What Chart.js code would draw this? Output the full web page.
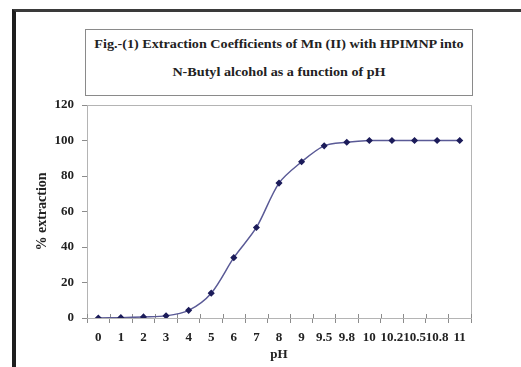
<!DOCTYPE html>
<html><head><meta charset="utf-8">
<script src="https://cdn.jsdelivr.net/npm/chart.js@4/dist/chart.umd.min.js"></script>
<style>
html,body{margin:0;padding:0;background:#fff;}
#wrap{position:relative;width:521px;height:367px;overflow:hidden;background:#fff;}
#frame{position:absolute;left:12px;top:9px;width:600px;height:400px;border-left:4px solid #1e1e1e;border-top:3px solid #3a3a3a;}
#tbox{position:absolute;left:85px;top:29px;width:388px;height:67px;border:1px solid #8a8a8a;box-sizing:border-box;font-family:"Liberation Serif","Times New Roman",serif;font-weight:bold;font-size:12px;color:#222;}
#tbox div{position:absolute;left:0;width:100%;text-align:center;white-space:nowrap;transform:scaleX(1.18);transform-origin:50% 50%;}
#c{position:absolute;left:0;top:0;}
</style></head>
<body><div id="wrap">
<div id="frame"></div>
<div id="tbox"><div id="t1" style="top:7px"></div><div id="t2" style="top:35px"></div></div>
<canvas id="c" width="521" height="367"></canvas>
</div>
<script>
const titleLines = ["Fig.-(1) Extraction Coefficients of Mn (II) with HPIMNP into", "N-Butyl alcohol as a function of pH"];
const categories = ["0","1","2","3","4","5","6","7","8","9","9.5","9.8","10","10.2","10.5","10.8","11"];
const extraction = [0, 0.2, 0.6, 1.2, 4.3, 14, 34, 51, 76, 88, 97, 99, 100, 100, 100, 100, 100];
const yTicks = [0, 20, 40, 60, 80, 100, 120];
const xTitle = "pH";
const yTitle = "% extraction";

document.getElementById('t1').textContent = titleLines[0];
document.getElementById('t2').textContent = titleLines[1];

const serif = "'Liberation Serif','Times New Roman',serif";
const plotBorder = {
  id: 'plotBorder',
  beforeDatasetsDraw(chart) {
    const {ctx, chartArea: a} = chart;
    ctx.save();
    ctx.strokeStyle = '#b4b4b4';
    ctx.lineWidth = 1;
    ctx.strokeRect(Math.round(a.left) + 0.5, Math.round(a.top) + 0.5, Math.round(a.right - a.left), Math.round(a.bottom - a.top));
    // inner halves of the crossing tick marks on the category axis
    const xs = chart.scales.x;
    ctx.strokeStyle = '#8c8c8c';
    ctx.beginPath();
    for (let i = 0; i <= xs.ticks.length; i++) {
      const x = Math.round(xs.getPixelForGridLine ? xs.getPixelForGridLine(i) : xs.left + i * xs.width / xs.ticks.length) + 0.5;
      ctx.moveTo(x, a.bottom);
      ctx.lineTo(x, a.bottom - 4);
    }
    ctx.stroke();
    ctx.restore();
  }
};

new Chart(document.getElementById('c'), {
  type: 'line',
  data: {
    labels: categories,
    datasets: [{
      data: extraction,
      borderColor: '#5a5a96',
      borderWidth: 1.5,
      backgroundColor: '#1c1c5a',
      pointBackgroundColor: '#1c1c5a',
      pointBorderColor: '#1c1c5a',
      pointStyle: 'rectRot',
      pointRadius: 2.5,
      tension: 0.3,
      fill: false
    }]
  },
  options: {
    responsive: false,
    animation: false,
    devicePixelRatio: 1,
    layout: {padding: {left: 22, top: 105, right: 50, bottom: 4}},
    plugins: {legend: {display: false}, tooltip: {enabled: false}, title: {display: false}},
    scales: {
      x: {
        type: 'category',
        offset: true,
        grid: {display: true, offset: true, drawOnChartArea: false, tickLength: 5, color: '#8c8c8c'},
        border: {color: '#8c8c8c', width: 1},
        ticks: {autoSkip: false, maxRotation: 0, minRotation: 0, padding: 7, color: '#222', font: {family: serif, weight: 'bold', size: 13}},
        title: {display: true, text: xTitle, color: '#222', padding: {top: 0, bottom: 1}, font: {family: serif, weight: 'bold', size: 13}},
        afterFit(s) { s.height = 367 - 4 - 318; }
      },
      y: {
        min: 0, max: 120,
        afterBuildTicks(s) { s.ticks = yTicks.map(v => ({value: v})); },
        grid: {display: true, drawOnChartArea: false, tickLength: 5, color: '#8c8c8c'},
        border: {color: '#8c8c8c', width: 1},
        ticks: {padding: 8, color: '#222', font: {family: serif, weight: 'bold', size: 13}},
        title: {display: true, text: yTitle, color: '#222', padding: {top: 12, bottom: 0}, font: {family: serif, weight: 'bold', size: 14}},
        afterFit(s) { s.width = 87 - 22; }
      }
    }
  },
  plugins: [plotBorder]
});
</script>
</body></html>
